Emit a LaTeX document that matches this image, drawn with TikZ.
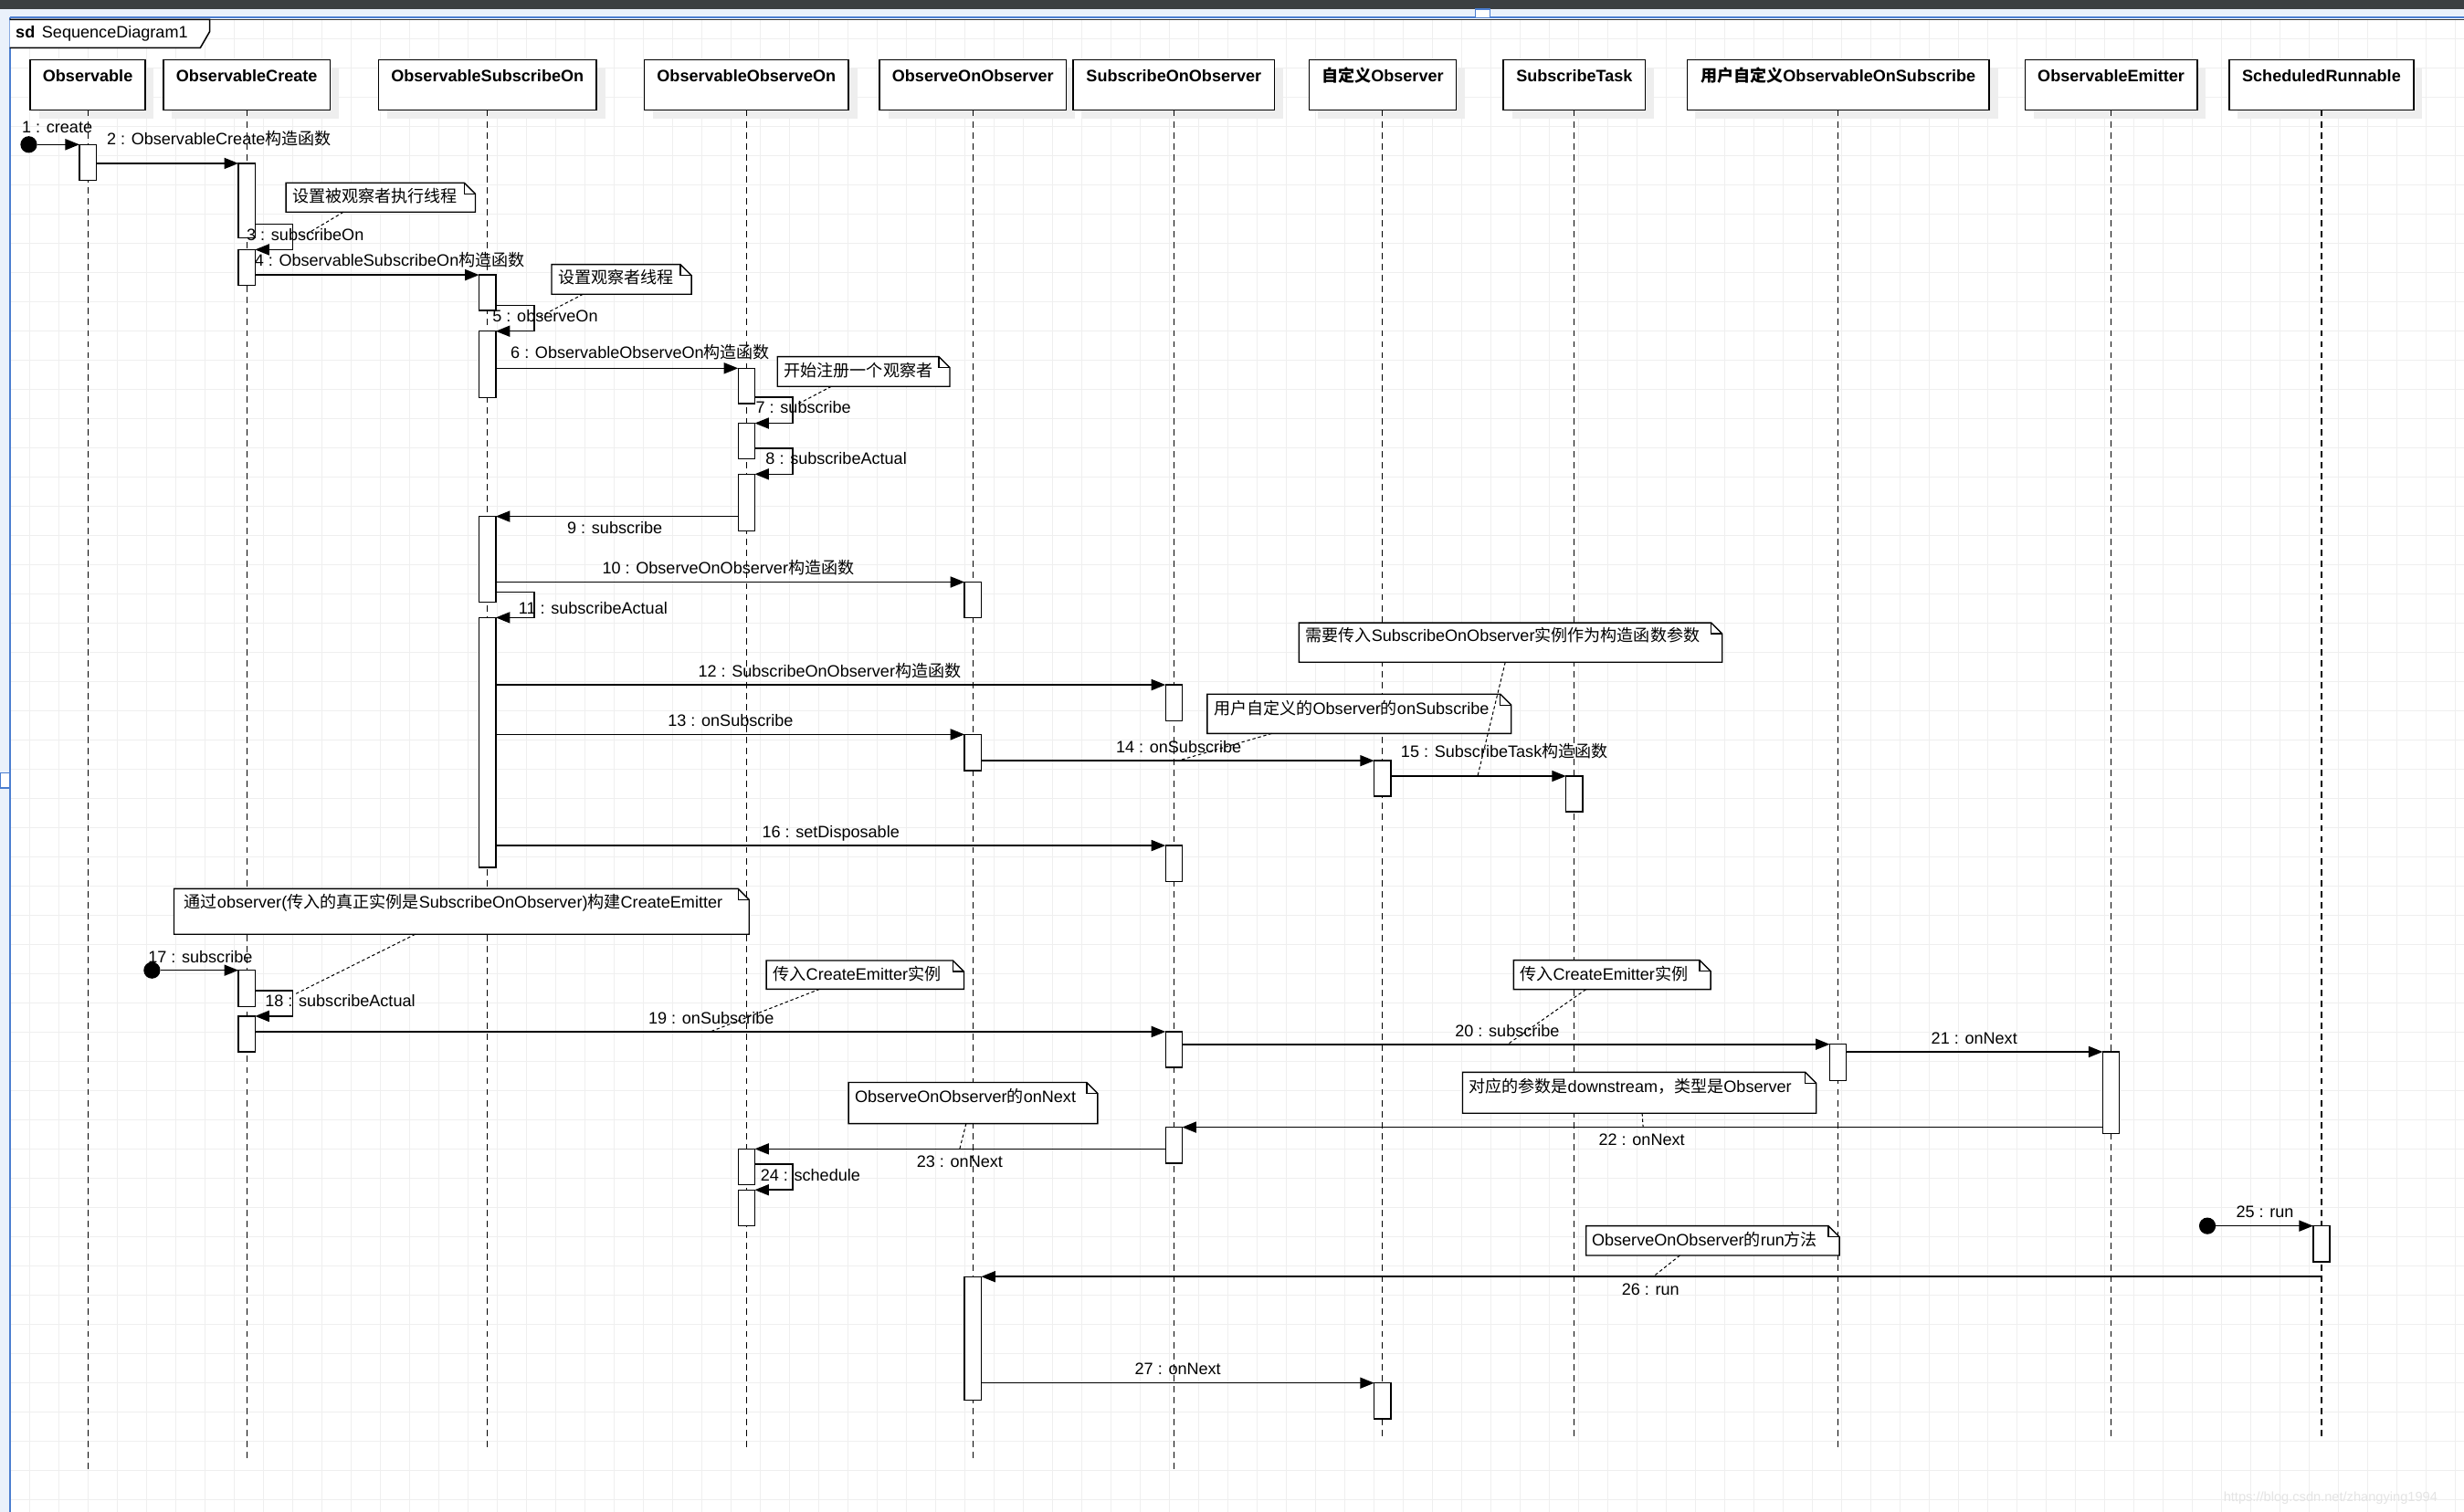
\documentclass[tikz,border=0pt]{standalone}
\usepackage{fontspec}
\setmainfont{Liberation Sans}
\newfontfamily\zhfont{Noto Sans CJK SC}
\newcommand\zh[1]{{\zhfont #1}}
\usetikzlibrary{arrows.meta}
\definecolor{gridc}{HTML}{EFEFEF}
\definecolor{topbar}{HTML}{3B3F42}
\definecolor{stripblue}{HTML}{EAF1FB}
\definecolor{lineblue}{HTML}{4A7DD0}
\definecolor{shadowc}{HTML}{EEEEEE}
\definecolor{wmark}{HTML}{E4E4E4}

\newcommand\lifehead[4]{%
  \fill[shadowc] (#2+5.5,43.7) rectangle (#3+5.5,75.6);
  \node[headbox, minimum width={#3-#2}, minimum height=31.9] (#1) at (#2,38.2) {};
  \node[txt, anchor=center, font=\bfseries\fontsize{10.5}{12}\selectfont] at (#1.north |- 0,48.4) {#4};
}
\newcommand\actv[4]{\node[actbox, minimum height={#4-#3}] (#1) at (#2.south |- 0,#3) {};}
\newcommand\umlnote[8]{%
  \node[inner sep=0pt, outer sep=0pt, minimum width={#4-#2}, minimum height={#5-#3}, anchor=north west] (#1) at (#2,#3) {};
  \draw[notestyle] (#1.north west) -- ([xshift=-7pt]#1.north east) -- ([yshift=-7pt]#1.north east) -- (#1.south east) -- (#1.south west) -- cycle;
  \draw[notestyle, fill=none] ([xshift=-7pt]#1.north east) -- ([xshift=-7pt,yshift=-7pt]#1.north east) -- ([yshift=-7pt]#1.north east);
  \node[txt] at (#6,#7) {#8};
}

\begin{document}
\begin{tikzpicture}[x=1pt,y=-1pt,
  every node/.style={font=\fontsize{10.5}{12}\selectfont},
  txt/.style={inner sep=0pt, outer sep=0pt, anchor=west, text height=8pt, text depth=1pt},
  headbox/.style={draw, line width=0.9pt, fill=white, anchor=north west, inner sep=0pt, outer sep=0pt},
  actbox/.style={draw, line width=0.8pt, fill=white, anchor=north, inner sep=0pt, outer sep=0pt, minimum width=10.6},
  notestyle/.style={draw, line width=0.8pt, fill=white},
  lifeline/.style={line width=0.65pt, dash pattern=on 4pt off 3pt},
  msg/.style={line width=0.9pt, -{Triangle[length=9pt,width=7pt]}},
  noteline/.style={line width=0.6pt, dash pattern=on 2pt off 1.6pt},
  found/.style={circle, fill=black, inner sep=0pt, outer sep=0pt, minimum size=10.6}
]
\useasboundingbox (0,0) rectangle (1568,962.4);
\fill[white] (0,0) rectangle (1568,962.4);
% grid
\foreach \i in {1,...,84} \draw[gridc, line width=0.5pt] ({\i*18.597},12) -- ({\i*18.597},962.4);
\foreach \j in {1,...,51} \draw[gridc, line width=0.5pt] (6,{5.8+\j*18.597}) -- (1568,{5.8+\j*18.597});
% window chrome
\fill[topbar] (0,0) rectangle (1568,5.8);
\fill[stripblue] (0,5.8) rectangle (1568,11);
\fill[stripblue] (0,11) rectangle (6,962.4);
\draw[lineblue, line width=1.2pt] (6.2,11.3) -- (1568,11.3);
\draw[lineblue, line width=1.2pt] (6.2,11.3) -- (6.2,962.4);
\draw[lineblue, line width=0.8pt, fill=white] (939,5.8) rectangle (948,11.3);
\draw[lineblue, line width=0.8pt, fill=white] (0,492) rectangle (6.2,501.6);
\draw[black!80, line width=0.5pt] (6.2,12.4) -- (1568,12.4);
% sd tab
\draw[line width=0.9pt, fill=white] (6.2,12.4) -- (133.5,12.4) -- (133.5,20) -- (127.5,30.4) -- (6.2,30.4);
\node[txt, font=\bfseries\fontsize{10.5}{12}\selectfont] at (10,20.9) {sd};
\node[txt] at (26.7,20.9) {SequenceDiagram1};

% lifeline heads
\lifehead{hObs}{19.3}{92.4}{Observable}
\lifehead{hCre}{104}{210}{ObservableCreate}
\lifehead{hSub}{240.8}{379.6}{ObservableSubscribeOn}
\lifehead{hObo}{410}{540}{ObservableObserveOn}
\lifehead{hOoo}{559.7}{678.5}{ObserveOnObserver}
\lifehead{hSoo}{683}{811}{SubscribeOnObserver}
\lifehead{hCus}{833}{926.6}{\zh{自定义}Observer}
\lifehead{hTask}{956.7}{1047}{SubscribeTask}
\lifehead{hUser}{1073.6}{1265.8}{\zh{用户自定义}ObservableOnSubscribe}
\lifehead{hEmit}{1288.6}{1398.2}{ObservableEmitter}
\lifehead{hRun}{1418.6}{1536}{ScheduledRunnable}

% lifelines
\draw[lifeline] (hObs.south) -- (hObs.south |- 0,936.6);
\draw[lifeline] (hCre.south) -- (hCre.south |- 0,928);
\draw[lifeline] (hSub.south) -- (hSub.south |- 0,922.3);
\draw[lifeline] (hObo.south) -- (hObo.south |- 0,922.3);
\draw[lifeline] (hOoo.south) -- (hOoo.south |- 0,928);
\draw[lifeline] (hSoo.south) -- (hSoo.south |- 0,936.6);
\draw[lifeline] (hCus.south) -- (hCus.south |- 0,917);
\draw[lifeline] (hTask.south) -- (hTask.south |- 0,917);
\draw[lifeline] (hUser.south) -- (hUser.south |- 0,922);
\draw[lifeline] (hEmit.south) -- (hEmit.south |- 0,917);
\draw[lifeline] (hRun.south) -- (hRun.south |- 0,917);

% activations
\actv{oA}{hObs}{92}{114.7}
\actv{cA1}{hCre}{104}{151.3}
\actv{cA2}{hCre}{158.9}{181.5}
\actv{cA3}{hCre}{617.6}{640.6}
\actv{cA4}{hCre}{646.8}{669.5}
\actv{sA1}{hSub}{175}{197.6}
\actv{sA2}{hSub}{210.8}{253}
\actv{sA3}{hSub}{328.7}{383.3}
\actv{sA4}{hSub}{393.1}{552}
\actv{oo1}{hObo}{234.4}{256.9}
\actv{oo2}{hObo}{269.4}{292.2}
\actv{oo3}{hObo}{301.8}{337.8}
\actv{oo4}{hObo}{731.3}{754.2}
\actv{oo5}{hObo}{757.4}{780.3}
\actv{ob1}{hOoo}{370.5}{393}
\actv{ob2}{hOoo}{467.5}{490.5}
\actv{ob3}{hOoo}{812.6}{891.1}
\actv{so1}{hSoo}{435.9}{458.7}
\actv{so2}{hSoo}{538.2}{561.2}
\actv{so3}{hSoo}{656.7}{679.4}
\actv{so4}{hSoo}{717.5}{740.4}
\actv{cu1}{hCus}{484.2}{506.8}
\actv{cu2}{hCus}{880.3}{903.1}
\actv{st1}{hTask}{494}{516.7}
\actv{us1}{hUser}{664.7}{687.7}
\actv{em1}{hEmit}{669.5}{721.6}
\actv{sr1}{hRun}{780.3}{803.2}

% found message starts
\node[found] (f1) at (18.3,92) {};
\node[found] (f17) at (96.7,617.6) {};
\node[found] (f25) at (1404.7,780.3) {};

% messages
\draw[msg] (f1) -- (oA.north west);
\draw[msg] (oA.east |- cA1.north) -- (cA1.north west);
\draw[msg] (cA1.east |- 0,142.8) -- ++(24,0) |- (cA2.north east);
\draw[msg] (cA2.east |- sA1.north) -- (sA1.north west);
\draw[msg] (sA1.east |- 0,194.5) -- ++(24.4,0) |- (sA2.north east);
\draw[msg] (sA2.east |- oo1.north) -- (oo1.north west);
\draw[msg] (oo1.east |- 0,252.8) -- ++(24,0) |- (oo2.north east);
\draw[msg] (oo2.east |- 0,285.5) -- ++(24,0) |- (oo3.north east);
\draw[msg] (oo3.west |- sA3.north) -- (sA3.north east);
\draw[msg] (sA3.east |- ob1.north) -- (ob1.north west);
\draw[msg] (sA3.east |- 0,376.8) -- ++(24.4,0) |- (sA4.north east);
\draw[msg] (sA4.east |- so1.north) -- (so1.north west);
\draw[msg] (sA4.east |- ob2.north) -- (ob2.north west);
\draw[msg] (ob2.east |- cu1.north) -- (cu1.north west);
\draw[msg] (cu1.east |- st1.north) -- (st1.north west);
\draw[msg] (sA4.east |- so2.north) -- (so2.north west);
\draw[msg] (f17) -- (cA3.north west);
\draw[msg] (cA3.east |- 0,630.6) -- ++(24,0) |- (cA4.north east);
\draw[msg] (cA4.east |- so3.north) -- (so3.north west);
\draw[msg] (so3.east |- us1.north) -- (us1.north west);
\draw[msg] (us1.east |- em1.north) -- (em1.north west);
\draw[msg] (em1.west |- so4.north) -- (so4.north east);
\draw[msg] (so4.west |- oo4.north) -- (oo4.north east);
\draw[msg] (oo4.east |- 0,741) -- ++(24,0) |- (oo5.north east);
\draw[msg] (f25) -- (sr1.north west);
\draw[msg] (sr1.south |- ob3.north) -- (ob3.north east);
\draw[msg] (ob3.east |- cu2.north) -- (cu2.north west);

% notes
\umlnote{n1}{182}{116.4}{302.5}{135}{186}{125}{\zh{设置被观察者执行线程}}
\umlnote{n2}{351}{168.3}{440}{187.3}{355.3}{177}{\zh{设置观察者线程}}
\umlnote{n3}{494.7}{227}{604.4}{246}{499}{236}{\zh{开始注册一个观察者}}
\umlnote{n4}{826.6}{396.4}{1095.9}{421.5}{830.8}{404.9}{\zh{需要传入}SubscribeOnObserver\zh{实例作为构造函数参数}}
\umlnote{n5}{768.2}{441.8}{961.7}{466.9}{772.5}{451.2}{\zh{用户自定义的}Observer\zh{的}onSubscribe}
\umlnote{n6}{110.7}{565.7}{476.7}{594.7}{117.3}{574.4}{\zh{通过}observer(\zh{传入的真正实例是}SubscribeOnObserver)\zh{构建}CreateEmitter}
\umlnote{n7}{487.7}{611.4}{613.4}{629.6}{492}{620.5}{\zh{传入}CreateEmitter\zh{实例}}
\umlnote{n8}{963.2}{611.2}{1088.6}{629.8}{967.3}{620.5}{\zh{传入}CreateEmitter\zh{实例}}
\umlnote{n9}{930.7}{682.5}{1155.8}{708.6}{934.7}{691.6}{\zh{对应的参数是}downstream\zh{，类型是}Observer}
\umlnote{n10}{540}{689}{698.5}{715.2}{544}{698}{ObserveOnObserver\zh{的}onNext}
\umlnote{n11}{1009.3}{780.3}{1170.5}{799.1}{1013}{789.4}{ObserveOnObserver\zh{的}run\zh{方法}}

% note connectors
\draw[noteline] (n1.south -| 218.5,0) -- (191.8,151);
\draw[noteline] (n2.south -| 371,0) -- (343.6,201.5);
\draw[noteline] (n3.south -| 529,0) -- (508,257);
\draw[noteline] (n4.south -| 957.9,0) -- (940.3,494);
\draw[noteline] (n5.south -| 809.3,0) -- (749.7,484.2);
\draw[noteline] (n6.south -| 264.3,0) -- (188.3,632.5);
\draw[noteline] (n7.south -| 521.6,0) -- (452,656.7);
\draw[noteline] (n8.south -| 1009.2,0) -- (959.4,664.7);
\draw[noteline] (n9.south -| 1045,0) -- (1045.6,717.5);
\draw[noteline] (n10.south -| 614.8,0) -- (610.7,731.3);
\draw[noteline] (n11.south -| 1069,0) -- (1052,812.6);

% message labels
\node[txt] at (14,81) {1 : create};
\node[txt] at (68,88.5) {2 : ObservableCreate\zh{构造函数}};
\node[txt] at (157,149.4) {3 : subscribeOn};
\node[txt] at (162,166) {4 : ObservableSubscribeOn\zh{构造函数}};
\node[txt] at (313.5,201.5) {5 : observeOn};
\node[txt] at (325,224.7) {6 : ObservableObserveOn\zh{构造函数}};
\node[txt] at (481,259.6) {7 : subscribe};
\node[txt] at (487.3,292.2) {8 : subscribeActual};
\node[txt] at (361,336.4) {9 : subscribe};
\node[txt] at (383.3,361.5) {10 : ObserveOnObserver\zh{构造函数}};
\node[txt] at (330,387.4) {11 : subscribeActual};
\node[txt] at (444.3,427.7) {12 : SubscribeOnObserver\zh{构造函数}};
\node[txt] at (425,458.9) {13 : onSubscribe};
\node[txt] at (710.2,475.5) {14 : onSubscribe};
\node[txt] at (891.5,478.5) {15 : SubscribeTask\zh{构造函数}};
\node[txt] at (485,530) {16 : setDisposable};
\node[txt] at (94.3,609.2) {17 : subscribe};
\node[txt] at (168.7,637.3) {18 : subscribeActual};
\node[txt] at (412.7,648) {19 : onSubscribe};
\node[txt] at (926,656.3) {20 : subscribe};
\node[txt] at (1229,661) {21 : onNext};
\node[txt] at (1017.4,725.5) {22 : onNext};
\node[txt] at (583.4,739.4) {23 : onNext};
\node[txt] at (484,748.3) {24 : schedule};
\node[txt] at (1423,771.6) {25 : run};
\node[txt] at (1032,821) {26 : run};
\node[txt] at (722.2,871.7) {27 : onNext};

% watermark
\node[txt, text=wmark, font=\fontsize{8.5}{10}\selectfont] at (1415,952) {https://blog.csdn.net/zhangying1994};
\end{tikzpicture}
\end{document}
